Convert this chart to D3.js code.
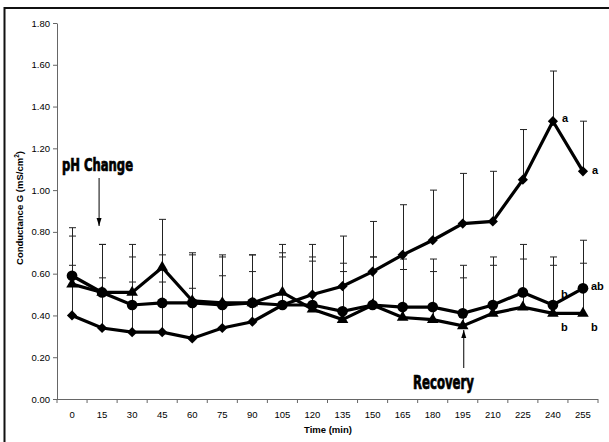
<!DOCTYPE html>
<html lang="en">
<head>
    <meta charset="UTF-8">
    <title>Conductance G</title>
    <script src="https://d3js.org/d3.v7.min.js"></script>
    <style>
        body { margin: 0; background: #fff; }
        svg { display: block; font-family: "Liberation Sans", Arial, sans-serif; }
        .axis path, .axis line { stroke: #666; }
        .axis text { font-size: 9.5px; fill: #000; }
    </style>
</head>
<body>
    <div id="chart"></div>
    <script>
        // Time points (min)
        const times = [0, 15, 30, 45, 60, 75, 90, 105, 120, 135, 150, 165, 180, 195, 210, 225, 240, 255];
        const yTicks = [0, 0.2, 0.4, 0.6, 0.8, 1.0, 1.2, 1.4, 1.6, 1.8];

        // Diamond series (pH change group)
        const diamondVals = [0.40, 0.34, 0.32, 0.32, 0.29, 0.34, 0.37, 0.45, 0.50, 0.54, 0.61, 0.69, 0.76, 0.84, 0.85, 1.05, 1.33, 1.09];
        const diamondErr  = [0.24, 0.24, 0.24, 0.24, 0.24, 0.25, 0.24, 0.25, 0.24, 0.24, 0.24, 0.24, 0.24, 0.24, 0.24, 0.24, 0.24, 0.24];
        // Circle series
        const circleVals = [0.59, 0.51, 0.45, 0.46, 0.46, 0.45, 0.46, 0.45, 0.45, 0.42, 0.45, 0.44, 0.44, 0.41, 0.45, 0.51, 0.45, 0.53];
        const circleErr  = [0.23, 0.23, 0.23, 0.23, 0.23, 0.23, 0.23, 0.23, 0.23, 0.23, 0.23, 0.23, 0.23, 0.23, 0.23, 0.23, 0.23, 0.23];
        // Triangle series
        const triangleVals = [0.55, 0.51, 0.51, 0.63, 0.47, 0.46, 0.46, 0.51, 0.43, 0.38, 0.45, 0.39, 0.38, 0.35, 0.41, 0.44, 0.41, 0.41];
        const triangleErr  = [0.23, 0.23, 0.23, 0.23, 0.23, 0.23, 0.23, 0.23, 0.23, 0.23, 0.23, 0.23, 0.23, 0.23, 0.23, 0.23, 0.23, 0.24];

        // significance letters: [series, time, text, dx, dy]
        const letters = [
            ['diamond', 240, 'a', 9, -3],
            ['diamond', 255, 'a', 9, -1],
            ['circle', 240, 'b', 8, -11],
            ['triangle', 240, 'b', 8, 14],
            ['circle', 255, 'ab', 8, -2],
            ['triangle', 255, 'b', 8, 14]
        ];

        const W = 609, H = 442;
        const svg = d3.select('#chart').append('svg').attr('width', W).attr('height', H);

        // outer frame (only top and left show)
        svg.append('rect')
            .attr('x', 4.5).attr('y', 8)
            .attr('width', 700).attr('height', 500)
            .attr('fill', 'none').attr('stroke', '#111').attr('stroke-width', 2);

        const x = d3.scaleBand().domain(times).range([57, 598]);
        const cx = t => x(t) + x.bandwidth() / 2;
        const y = d3.scaleLinear().domain([0, 1.8]).range([399, 23]);

        // y axis
        svg.append('g')
            .attr('class', 'axis')
            .attr('transform', 'translate(57,0)')
            .call(d3.axisLeft(y).tickValues(yTicks).tickFormat(d3.format('.2f')).tickSize(4).tickSizeOuter(0).tickPadding(3));

        // x axis: ticks between categories
        const xg = svg.append('g')
            .attr('class', 'axis')
            .attr('transform', 'translate(0,399)');
        xg.append('line').attr('x1', 57).attr('x2', 598).attr('y1', 0.5).attr('y2', 0.5).attr('stroke', '#777');
        xg.selectAll('.tk')
            .data(times.concat(['end']))
            .join('line')
            .attr('x1', (d, i) => i < times.length ? x(d) : 598)
            .attr('x2', (d, i) => i < times.length ? x(d) : 598)
            .attr('y1', 0).attr('y2', 4)
            .attr('stroke', '#777');
        xg.selectAll('text')
            .data(times)
            .join('text')
            .attr('x', d => cx(d))
            .attr('y', 19)
            .attr('text-anchor', 'middle')
            .text(d => d);

        // axis titles
        svg.append('text')
            .attr('transform', 'translate(23,208) rotate(-90)')
            .attr('text-anchor', 'middle')
            .attr('font-size', 9.5).attr('font-weight', 'bold')
            .html('Conductance G (mS/cm<tspan dy="-4" font-size="6.5">2</tspan><tspan dy="4">)</tspan>');
        svg.append('text')
            .attr('x', 328).attr('y', 433)
            .attr('text-anchor', 'middle')
            .attr('font-size', 9.5).attr('font-weight', 'bold')
            .text('Time (min)');

        const series = [
            { name: 'diamond', vals: diamondVals, err: diamondErr, sym: d3.symbolSquare, size: 52, rot: 45 },
            { name: 'triangle', vals: triangleVals, err: triangleErr, sym: d3.symbolTriangle, size: 58, rot: 0 },
            { name: 'circle', vals: circleVals, err: circleErr, sym: d3.symbolCircle, size: 90, rot: 0 }
        ];

        // error bars (upper only)
        const eg = svg.append('g').attr('stroke', '#222').attr('stroke-width', 1);
        series.forEach(s => {
            times.forEach((t, i) => {
                const xx = Math.round(cx(t)) + 0.5;
                const top = y(s.vals[i] + s.err[i]);
                eg.append('line').attr('x1', xx).attr('x2', xx).attr('y1', y(s.vals[i])).attr('y2', top);
                eg.append('line').attr('x1', xx - 3.5).attr('x2', xx + 3.5).attr('y1', top).attr('y2', top);
            });
        });

        // lines
        const line = d3.line().x((d, i) => cx(times[i])).y(d => y(d));
        series.forEach(s => {
            svg.append('path')
                .datum(s.vals)
                .attr('d', line)
                .attr('fill', 'none')
                .attr('stroke', '#000')
                .attr('stroke-width', 3.2)
                .attr('stroke-linejoin', 'miter');
        });

        // markers
        series.forEach(s => {
            svg.append('g').selectAll('path')
                .data(s.vals)
                .join('path')
                .attr('d', d3.symbol().type(s.sym).size(s.size))
                .attr('transform', (d, i) => `translate(${cx(times[i])},${y(d)}) rotate(${s.rot})`)
                .attr('fill', '#000');
        });

        // significance letters
        const lookup = { diamond: diamondVals, circle: circleVals, triangle: triangleVals };
        svg.append('g').selectAll('text')
            .data(letters)
            .join('text')
            .attr('x', d => cx(d[1]) + d[3])
            .attr('y', d => y(lookup[d[0]][times.indexOf(d[1])]) + d[4])
            .attr('dy', '0.35em')
            .attr('font-size', 11).attr('font-weight', 'bold')
            .text(d => d[2]);

        // annotations with arrows
        svg.append('defs').append('marker')
            .attr('id', 'head')
            .attr('viewBox', '0 0 8 8').attr('refX', 8).attr('refY', 4)
            .attr('markerWidth', 8).attr('markerHeight', 8).attr('markerUnits', 'userSpaceOnUse')
            .attr('orient', 'auto')
            .append('path').attr('d', 'M0,1.5L8,4L0,6.5Z').attr('fill', '#000');

        const ph = 15, rec = 195;
        svg.append('text')
            .attr('x', 62).attr('y', 171)
            .attr('font-family', '"Liberation Sans Narrow", "DejaVu Sans Condensed", sans-serif')
            .attr('font-size', 17).attr('font-weight', 'bold')
            .attr('stroke', '#000').attr('stroke-width', 0.7)
            .attr('textLength', 71).attr('lengthAdjust', 'spacingAndGlyphs')
            .text('pH Change');
        svg.append('line')
            .attr('x1', cx(ph) - 3).attr('x2', cx(ph) - 3)
            .attr('y1', 178).attr('y2', 226)
            .attr('stroke', '#000').attr('stroke-width', 1)
            .attr('marker-end', 'url(#head)');

        svg.append('text')
            .attr('x', 413).attr('y', 389)
            .attr('font-family', '"Liberation Sans Narrow", "DejaVu Sans Condensed", sans-serif')
            .attr('font-size', 19).attr('font-weight', 'bold')
            .attr('stroke', '#000').attr('stroke-width', 0.7)
            .attr('textLength', 61).attr('lengthAdjust', 'spacingAndGlyphs')
            .text('Recovery');
        svg.append('line')
            .attr('x1', cx(rec) + 1).attr('x2', cx(rec) + 1)
            .attr('y1', 368).attr('y2', 330)
            .attr('stroke', '#000').attr('stroke-width', 1)
            .attr('marker-end', 'url(#head)');
    </script>
</body>
</html>
